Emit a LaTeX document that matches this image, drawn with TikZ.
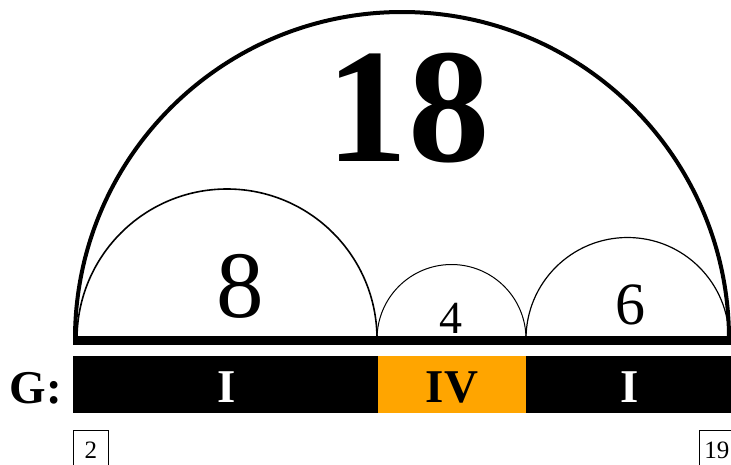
\documentclass[tikz,border=0pt]{standalone}
\usepackage{fontspec}
\setmainfont{Liberation Serif}
\definecolor{segorange}{HTML}{FFA500}
\begin{document}
\begin{tikzpicture}[x=1pt,y=-1pt,
  fs/.style={font=\fontsize{#1}{#1}\selectfont},
  seglabel/.style={text=white,font=\fontsize{47}{47}\selectfont\bfseries,inner sep=0pt},
  posbox/.style={draw,line width=0.8pt,inner sep=0pt,minimum width=35pt,minimum height=40pt,anchor=north west,font=\fontsize{25}{25}\selectfont}]
\useasboundingbox (0,0) rectangle (731,464);
% arcs
\draw[line width=4pt] (75,339) arc[start angle=180,end angle=360,radius=327];
\draw[line width=1.6pt] (77,339) arc[start angle=180,end angle=360,radius=150];
\draw[line width=1pt] (377,339) arc[start angle=180,end angle=360,radius=74.5];
\draw[line width=1.2pt] (526,339) arc[start angle=180,end angle=360,radius=101.5];
% baseline
\draw[line width=9pt] (73,340) -- (731,340);
% bar
\fill[black] (73,356) rectangle (378,413);
\fill[segorange] (378,356) rectangle (526,413);
\fill[black] (526,356) rectangle (731,413);
% labels
\node[fs=163,font=\fontsize{163}{163}\selectfont\bfseries,inner sep=0pt] (n18) at (408,108) {18};
\node[font=\fontsize{95}{95}\selectfont,inner sep=0pt] (n8) at (240,286) {8};
\node[font=\fontsize{46}{46}\selectfont,inner sep=0pt] (n4) at (451,318) {4};
\node[font=\fontsize{60}{60}\selectfont,inner sep=0pt] (n6) at (630,305) {6};
\node[seglabel] (s1) at (227,387) {I};
\node[seglabel,text=black] (s2) at (452,387) {IV};
\node[seglabel] (s3) at (630,387) {I};
\node[font=\fontsize{47}{47}\selectfont\bfseries,inner sep=0pt] (g) at (36,388) {G:};
\node[posbox] (p1) at (73,430) {2};
\node[posbox] (p2) at (699,430) {19};
\end{tikzpicture}
\end{document}
